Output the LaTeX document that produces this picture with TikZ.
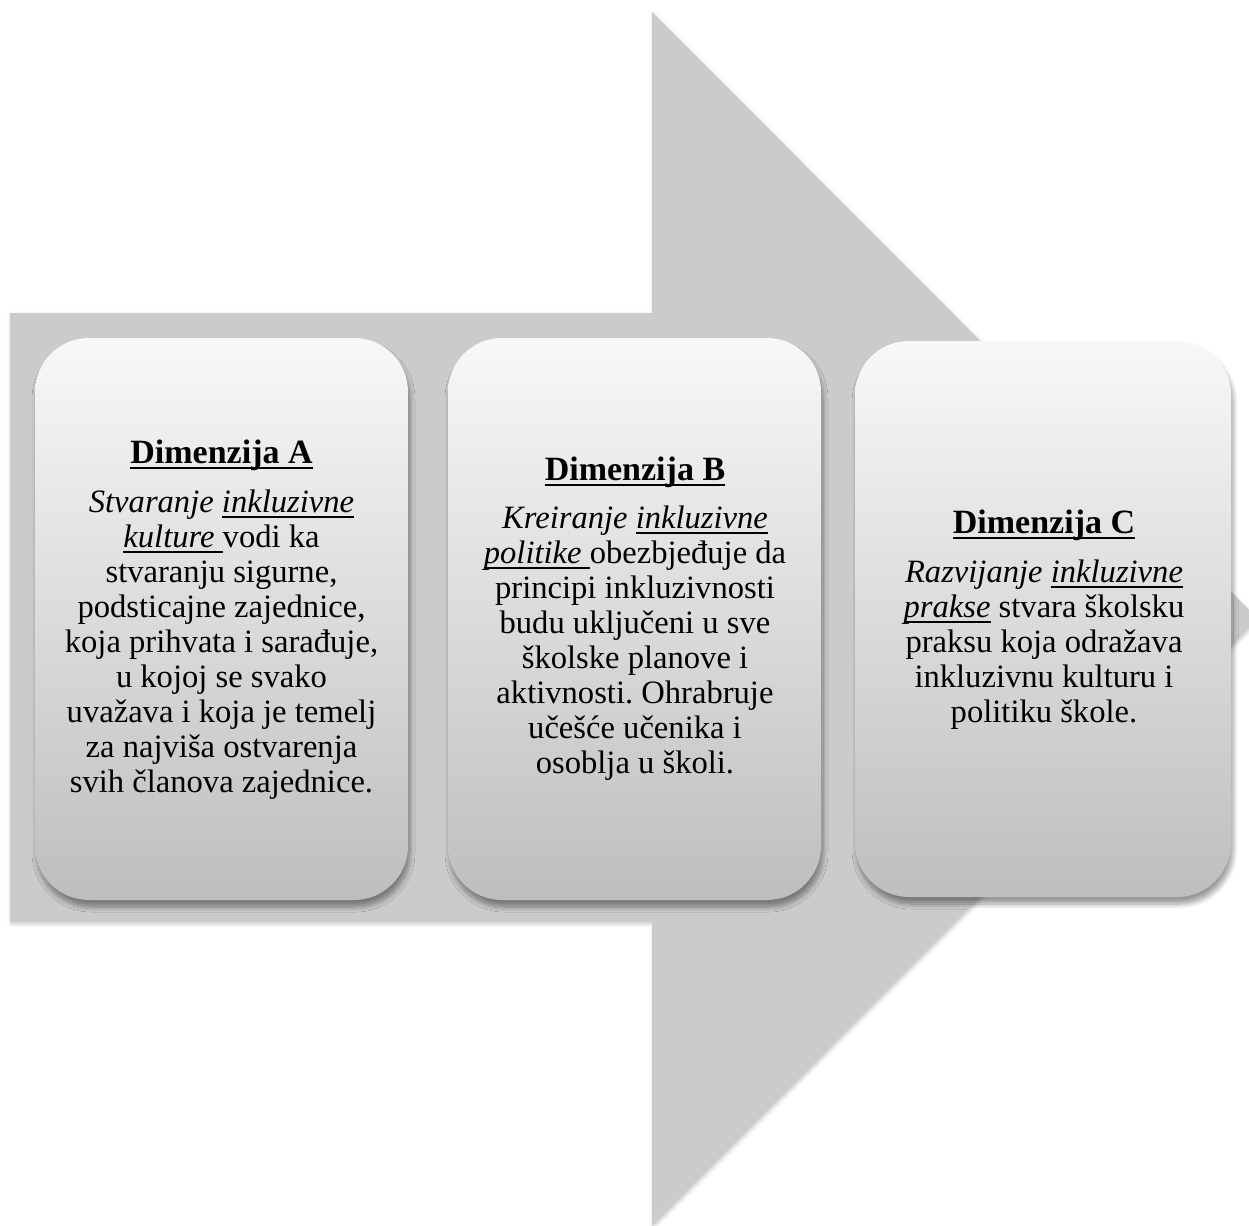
\documentclass[tikz,border=0pt]{standalone}
\usepackage{fontspec}
\setmainfont{Liberation Serif}
\usetikzlibrary{positioning,shadows.blur}
\definecolor{arrowgray}{RGB}{203,203,203}
\definecolor{cardtop}{RGB}{248,248,248}
\definecolor{cardbottom}{RGB}{190,190,190}
\newsavebox{\ulbox}
\newcommand{\dimul}[1]{\sbox\ulbox{#1}\rlap{\rule[-0.17em]{\wd\ulbox}{0.06em}}\usebox\ulbox}
\frenchspacing

\begin{document}
\begin{tikzpicture}[
x=0.5pt, y=-0.5pt,
card/.style = {shape=rectangle, rounded corners=27pt, minimum width=186.5pt, minimum height=281pt,
  outer sep=0pt, inner sep=0pt, top color=cardtop, bottom color=cardbottom,
  blur shadow={shadow xshift=1pt, shadow yshift=-3.5pt, shadow blur radius=2.5pt, shadow blur steps=8, shadow opacity=40}},
ttl/.style = {font=\fontsize{17}{20}\selectfont\bfseries, inner sep=0pt, anchor=base},
body/.style = {font=\fontsize{16.3}{17.5}\selectfont, align=center, inner sep=0pt, anchor=base},
]
\useasboundingbox (0,0) rectangle (1249,1226);
% the big arrow behind the cards
\fill[arrowgray, blur shadow={shadow xshift=0.5pt, shadow yshift=-1pt, shadow blur steps=4, shadow opacity=20}]
  (10,313) -- (652,313) -- (652,12) -- (1258,619) -- (652,1226) -- (652,922) -- (10,922) -- cycle;

\node[card] (boxA) at (221.5,619) {};
\node[card, right=20pt of boxA] (boxB) {};
\node[card, right=17pt of boxB, minimum width=188pt, minimum height=278pt] (boxC) {};

% base of a text block = baseline of its last line
\node[ttl] (ttlA) at (221.5,463) {\dimul{Dimenzija A}};
\node[body] (bodyA) at (221.5,792) {\textit{Stvaranje \dimul{inkluzivne}}\\
  \dimul{\textit{kulture}\ }vodi ka\\
  stvaranju sigurne,\\
  podsticajne zajednice,\\
  koja prihvata i sarađuje,\\
  u kojoj se svako\\
  uvažava i koja je temelj\\
  za najviša ostvarenja\\
  svih članova zajednice.};

\node[ttl] (ttlB) at (635,480) {\dimul{Dimenzija B}};
\node[body] (bodyB) at (635,773) {\textit{Kreiranje \dimul{inkluzivne}}\\
  \dimul{\textit{politike}\ }obezbjeđuje da\\
  principi inkluzivnosti\\
  budu uključeni u sve\\
  školske planove i\\
  aktivnosti. Ohrabruje\\
  učešće učenika i\\
  osoblja u školi.};

\node[ttl] (ttlC) at (1044,533) {\dimul{Dimenzija C}};
\node[body] (bodyC) at (1044,722) {\textit{Razvijanje \dimul{inkluzivne}}\\
  \dimul{\textit{prakse}} stvara školsku\\
  praksu koja odražava\\
  inkluzivnu kulturu i\\
  politiku škole.};
\end{tikzpicture}
\end{document}
